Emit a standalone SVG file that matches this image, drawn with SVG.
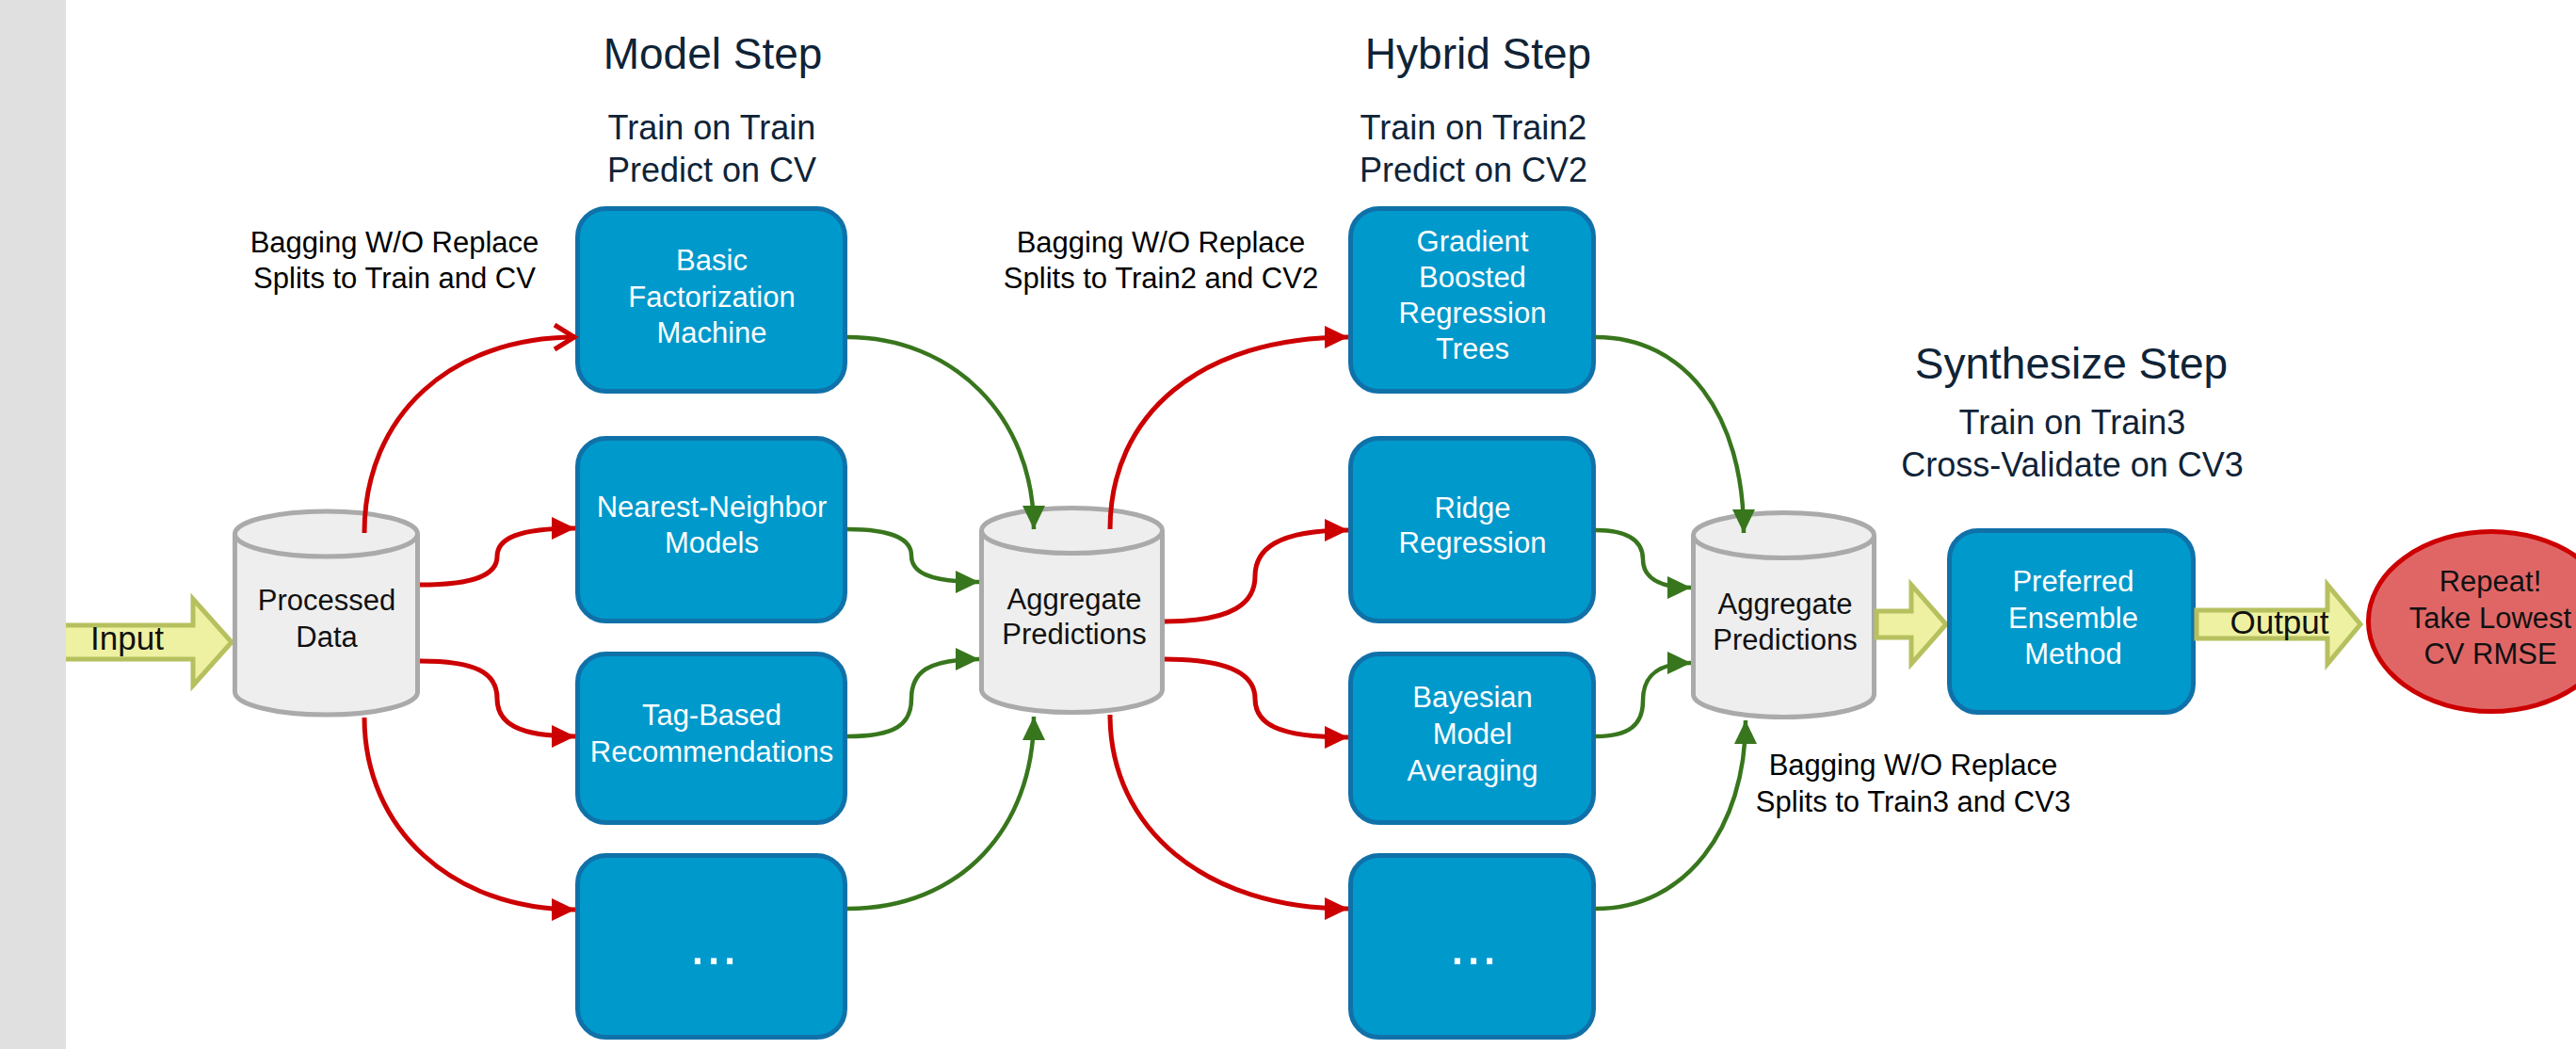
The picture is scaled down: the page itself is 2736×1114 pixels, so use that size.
<svg xmlns="http://www.w3.org/2000/svg" width="2736" height="1114" viewBox="0 0 2736 1114">
<defs>
<style>
.box{fill:#0099cc;stroke:#1071a9;stroke-width:5}
.cyl{fill:#eeeeee;stroke:#aaaaaa;stroke-width:5}
.blk{fill:#eef1a1;stroke:#b6c05f;stroke-width:5}
text{font-family:"Liberation Sans",Arial,sans-serif}
.wt{fill:#ffffff;font-size:31px;text-anchor:middle}
.bt{fill:#111111;font-size:31px;text-anchor:middle}
.tt{fill:#0f2337;text-anchor:middle}
.h1{font-size:46px}
.h2{font-size:36px}
.lb{fill:#000000;font-size:31px;text-anchor:middle}
.dots{fill:#ffffff;font-size:62px;text-anchor:middle}
.red{fill:none;stroke:#cc0000;stroke-width:5}
.grn{fill:none;stroke:#38761d;stroke-width:4.5}
</style>
<marker id="mr" markerUnits="userSpaceOnUse" markerWidth="30" markerHeight="30" refX="25" refY="12" orient="auto"><path d="M0,0 L25,12 L0,24 z" fill="#cc0000"/></marker>
<marker id="mg" markerUnits="userSpaceOnUse" markerWidth="30" markerHeight="30" refX="25" refY="12" orient="auto"><path d="M0,0 L25,12 L0,24 z" fill="#38761d"/></marker>
<marker id="mo" markerUnits="userSpaceOnUse" markerWidth="34" markerHeight="34" refX="25" refY="15" orient="auto"><path d="M3,2 L24,15 L3,28" fill="none" stroke="#cc0000" stroke-width="5"/></marker>
</defs>
<rect x="0" y="0" width="2736" height="1114" fill="#ffffff"/>

<g id="titles">
<text class="tt h1" x="757" y="73">Model Step</text>
<text class="tt h2" x="756" y="148">Train on Train</text>
<text class="tt h2" x="756" y="193">Predict on CV</text>
<text class="tt h1" x="1570" y="73">Hybrid Step</text>
<text class="tt h2" x="1565" y="148">Train on Train2</text>
<text class="tt h2" x="1565" y="193">Predict on CV2</text>
<text class="tt h1" x="2200" y="402">Synthesize Step</text>
<text class="tt h2" x="2201" y="461">Train on Train3</text>
<text class="tt h2" x="2201" y="506">Cross-Validate on CV3</text>
</g>

<g id="labels">
<text class="lb" x="419" y="268">Bagging W/O Replace</text>
<text class="lb" x="419" y="306">Splits to Train and CV</text>
<text class="lb" x="1233" y="268">Bagging W/O Replace</text>
<text class="lb" x="1233" y="306">Splits to Train2 and CV2</text>
<text class="lb" x="2032" y="823">Bagging W/O Replace</text>
<text class="lb" x="2032" y="862">Splits to Train3 and CV3</text>
</g>

<g id="input-arrow">
<polygon class="blk" points="40,664 205,664 205,636 246,682 205,728 205,700 40,700"/>
<text x="135" y="690" font-size="35" fill="#111111" text-anchor="middle">Input</text>
</g>

<rect x="0" y="0" width="70" height="1114" fill="#e0e0e0"/>

<g id="processed-data">
<path class="cyl" d="M249.5,567 V735 A97,24 0 0 0 443.5,735 V567"/>
<ellipse class="cyl" cx="346.5" cy="567" rx="97" ry="24"/>
<text class="bt" x="347" y="648">Processed</text>
<text class="bt" x="347" y="687">Data</text>
</g>

<g id="basic-fm">
<rect class="box" x="613.5" y="221.5" width="284" height="194" rx="30"/>
<text class="wt" x="756" y="287">Basic</text>
<text class="wt" x="756" y="326">Factorization</text>
<text class="wt" x="756" y="364">Machine</text>
</g>
<g id="nearest-neighbor">
<rect class="box" x="613.5" y="465.5" width="284" height="194" rx="30"/>
<text class="wt" x="756" y="549">Nearest-Neighbor</text>
<text class="wt" x="756" y="587">Models</text>
</g>
<g id="tag-based">
<rect class="box" x="613.5" y="694.5" width="284" height="179" rx="30"/>
<text class="wt" x="756" y="770">Tag-Based</text>
<text class="wt" x="756" y="809">Recommendations</text>
</g>
<g id="model-more">
<rect class="box" x="613.5" y="908.5" width="284" height="193" rx="30"/>
<text class="dots" x="758" y="1024">...</text>
</g>

<g id="aggregate-1">
<path class="cyl" d="M1042.5,563.5 V732.5 A96,24 0 0 0 1234.5,732.5 V563.5"/>
<ellipse class="cyl" cx="1138.5" cy="563.5" rx="96" ry="24"/>
<text class="bt" x="1141" y="647">Aggregate</text>
<text class="bt" x="1141" y="684">Predictions</text>
</g>

<g id="gbrt">
<rect class="box" x="1434.5" y="221.5" width="258" height="194" rx="30"/>
<text class="wt" x="1564" y="267">Gradient</text>
<text class="wt" x="1564" y="305">Boosted</text>
<text class="wt" x="1564" y="343">Regression</text>
<text class="wt" x="1564" y="381">Trees</text>
</g>
<g id="ridge">
<rect class="box" x="1434.5" y="465.5" width="258" height="194" rx="30"/>
<text class="wt" x="1564" y="550">Ridge</text>
<text class="wt" x="1564" y="587">Regression</text>
</g>
<g id="bma">
<rect class="box" x="1434.5" y="694.5" width="258" height="179" rx="30"/>
<text class="wt" x="1564" y="751">Bayesian</text>
<text class="wt" x="1564" y="790">Model</text>
<text class="wt" x="1564" y="829">Averaging</text>
</g>
<g id="hybrid-more">
<rect class="box" x="1434.5" y="908.5" width="258" height="193" rx="30"/>
<text class="dots" x="1565" y="1024">...</text>
</g>

<g id="aggregate-2">
<path class="cyl" d="M1798.5,568.5 V737.5 A96,24 0 0 0 1990.5,737.5 V568.5"/>
<ellipse class="cyl" cx="1894.5" cy="568.5" rx="96" ry="24"/>
<text class="bt" x="1896" y="652">Aggregate</text>
<text class="bt" x="1896" y="690">Predictions</text>
</g>

<g id="to-preferred-arrow">
<polygon class="blk" points="1993,649 2030,649 2030,621 2067,663 2030,705 2030,677 1993,677"/>
</g>

<g id="preferred-ensemble">
<rect class="box" x="2070.5" y="563.5" width="259" height="193" rx="30"/>
<text class="wt" x="2202" y="628">Preferred</text>
<text class="wt" x="2202" y="667">Ensemble</text>
<text class="wt" x="2202" y="705">Method</text>
</g>

<g id="output-arrow">
<polygon class="blk" points="2333,648 2472,648 2472,621 2507,663 2472,705 2472,678 2333,678"/>
<text x="2421" y="673" font-size="35" fill="#111111" text-anchor="middle">Output</text>
</g>

<g id="repeat">
<ellipse cx="2646" cy="660" rx="130.5" ry="95.5" fill="#e06666" stroke="#cc0000" stroke-width="5"/>
<text class="bt" x="2645" y="628">Repeat!</text>
<text class="bt" x="2645" y="667">Take Lowest</text>
<text class="bt" x="2645" y="705">CV RMSE</text>
</g>

<g id="connectors">
<path class="red" marker-end="url(#mo)" d="M387,566 C387,440 480,358 611,358"/>
<path class="red" marker-end="url(#mr)" d="M446,621 C505,621 528,610 528,591 C528,572 550,561 611,561"/>
<path class="red" marker-end="url(#mr)" d="M446,702 C505,702 528,714 528,742 C528,768 550,782 611,782"/>
<path class="red" marker-end="url(#mr)" d="M387,762 C387,880 480,966 611,966"/>
<path class="grn" marker-end="url(#mg)" d="M900,358 C1010,358 1098,440 1098,562"/>
<path class="grn" marker-end="url(#mg)" d="M900,562 C950,562 968,574 968,590 C968,607 985,618 1040,618"/>
<path class="grn" marker-end="url(#mg)" d="M900,782 C950,782 968,770 968,742 C968,714 985,700 1040,700"/>
<path class="grn" marker-end="url(#mg)" d="M900,965 C1020,965 1098,880 1098,761"/>
<path class="red" marker-end="url(#mr)" d="M1179,562 C1179,440 1275,358 1432,358"/>
<path class="red" marker-end="url(#mr)" d="M1237,660 C1310,660 1333,640 1333,612 C1333,584 1355,563 1432,563"/>
<path class="red" marker-end="url(#mr)" d="M1237,700 C1310,700 1333,718 1333,742 C1333,768 1355,783 1432,783"/>
<path class="red" marker-end="url(#mr)" d="M1179,759 C1179,880 1280,965 1432,965"/>
<path class="grn" marker-end="url(#mg)" d="M1695,358 C1790,358 1852,440 1852,566"/>
<path class="grn" marker-end="url(#mg)" d="M1695,563 C1730,563 1745,575 1745,594 C1745,612 1760,624 1796,624"/>
<path class="grn" marker-end="url(#mg)" d="M1695,782 C1730,782 1745,770 1745,744 C1745,718 1760,704 1796,704"/>
<path class="grn" marker-end="url(#mg)" d="M1695,965 C1790,965 1854,880 1854,765"/>
</g>
</svg>
